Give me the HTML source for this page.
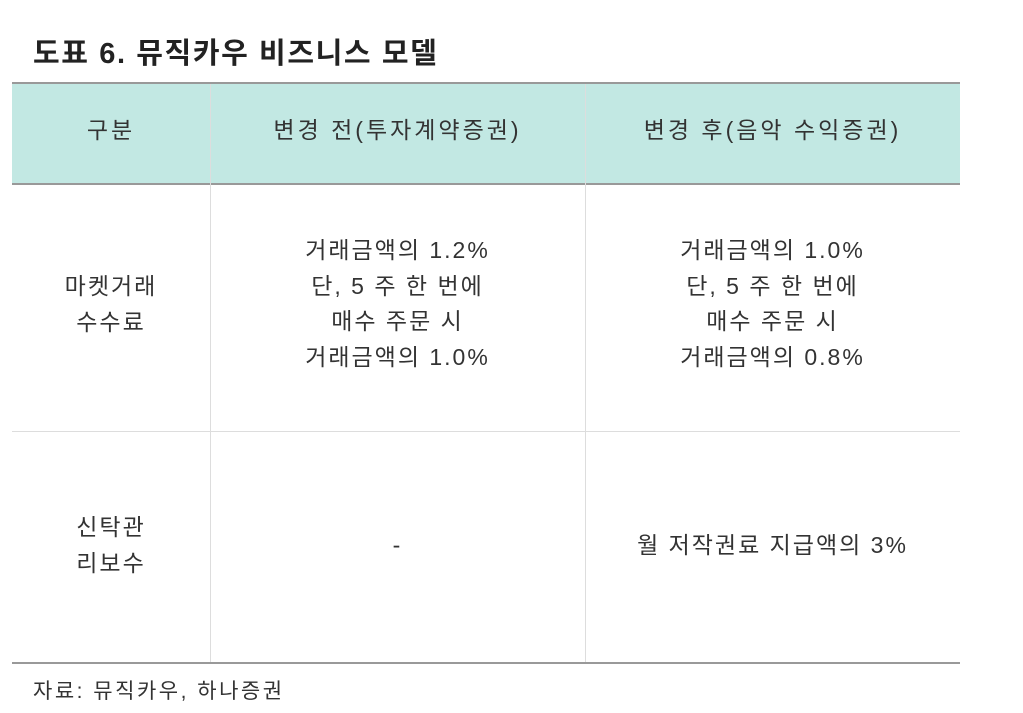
<!DOCTYPE html>
<html><head><meta charset="utf-8"><style>
body{margin:0;width:1023px;height:713px;background:#fff;font-family:"Liberation Sans","Noto Sans CJK KR",sans-serif;color:#333;position:relative;overflow:hidden}
.a{position:absolute}
.t{left:33px;top:30px;font-size:29px;font-weight:bold;letter-spacing:1.6px;color:#222}
.c{position:absolute;text-align:center;font-size:23px;line-height:35.5px;letter-spacing:2px}
.h{letter-spacing:3px}
</style></head><body>
<div class="a t">도표 6. 뮤직카우 비즈니스 모델</div>
<div class="a" style="left:12px;top:82px;width:948px;height:99px;background:#c2e8e3;border-top:2px solid #999;border-bottom:2px solid #999"></div>
<div class="a" style="left:210px;top:84px;width:1px;height:579px;background:#ddd"></div>
<div class="a" style="left:585px;top:84px;width:1px;height:579px;background:#ddd"></div>
<div class="a" style="left:12px;top:431px;width:948px;height:1px;background:#ddd"></div>
<div class="a" style="left:12px;top:662px;width:948px;height:2px;background:#999"></div>
<div class="c h" style="left:12px;width:198px;top:113px">구분</div>
<div class="c h" style="left:210px;width:375px;top:113px">변경 전(투자계약증권)</div>
<div class="c h" style="left:585px;width:375px;top:113px">변경 후(음악 수익증권)</div>
<div class="c" style="left:12px;width:198px;top:269px">마켓거래<br>수수료</div>
<div class="c" style="left:210px;width:375px;top:233px">거래금액의 1.2%<br>단, 5 주 한 번에<br>매수 주문 시<br>거래금액의 1.0%</div>
<div class="c" style="left:585px;width:375px;top:233px">거래금액의 1.0%<br>단, 5 주 한 번에<br>매수 주문 시<br>거래금액의 0.8%</div>
<div class="c" style="left:12px;width:198px;top:510px">신탁관<br>리보수</div>
<div class="c" style="left:210px;width:375px;top:528px">-</div>
<div class="c" style="left:585px;width:375px;top:528px">월 저작권료 지급액의 3%</div>
<div class="a" style="left:33px;top:675px;font-size:21px;letter-spacing:2.5px">자료: 뮤직카우, 하나증권</div>
</body></html>
